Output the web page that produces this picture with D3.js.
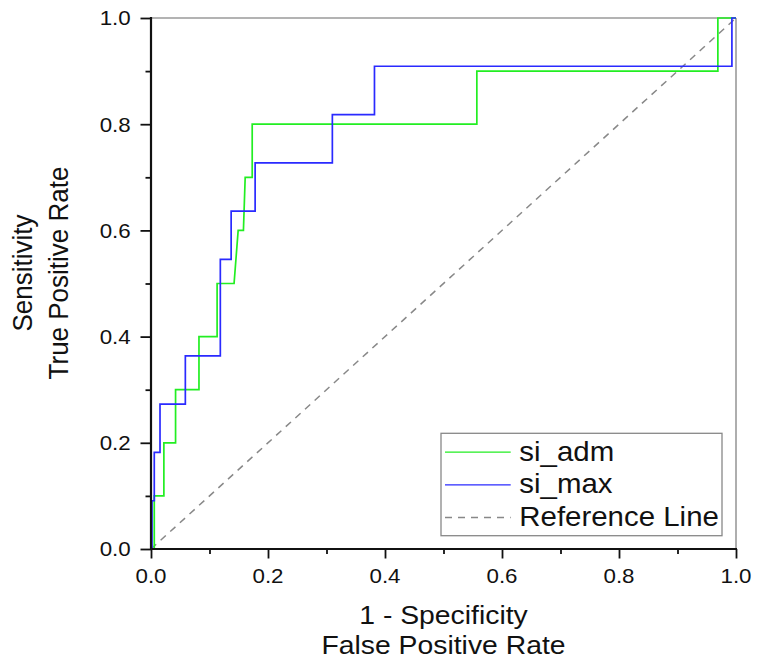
<!DOCTYPE html>
<html>
<head>
<meta charset="utf-8">
<script src="https://cdn.jsdelivr.net/npm/d3@7"></script>
<style>
  html, body { margin: 0; padding: 0; background: #fff; }
  svg { display: block; }
  text { font-family: Arial, "Liberation Sans", sans-serif; fill: #111; }
</style>
</head>
<body>
<svg id="chart" width="759" height="666"></svg>
<script>
// ---- data ----
const admFpr = [0, 0.0056, 0.0056, 0.022, 0.022, 0.042, 0.042, 0.082, 0.082, 0.113, 0.113, 0.142, 0.149, 0.158, 0.161, 0.173, 0.173, 0.557, 0.557, 0.969, 0.969, 1];
const admTpr = [0, 0, 0.1, 0.1, 0.2, 0.2, 0.3, 0.3, 0.4, 0.4, 0.5, 0.5, 0.6, 0.6, 0.7, 0.7, 0.8, 0.8, 0.9, 0.9, 1.0, 1.0];
const maxFpr = [0, 0.0017, 0.0017, 0.0056, 0.0056, 0.0154, 0.0154, 0.0587, 0.0587, 0.1185, 0.1185, 0.137, 0.137, 0.178, 0.178, 0.310, 0.310, 0.382, 0.382, 0.993, 0.993, 1];
const maxTpr = [0, 0, 0.0909, 0.0909, 0.1818, 0.1818, 0.2727, 0.2727, 0.3636, 0.3636, 0.5455, 0.5455, 0.6364, 0.6364, 0.7273, 0.7273, 0.8182, 0.8182, 0.9091, 0.9091, 1.0, 1.0];
const refFpr = [0, 1];
const refTpr = [0, 1];
const majorTicks = [0, 0.2, 0.4, 0.6, 0.8, 1.0];
const minorTicks = [0.1, 0.3, 0.5, 0.7, 0.9];
const tickLabels = ["0.0", "0.2", "0.4", "0.6", "0.8", "1.0"];
const seriesNames = ["si_adm", "si_max", "Reference Line"];
const seriesColors = ["#22ee22", "#2a2aff", "#888888"];
const xTitle = ["1 - Specificity", "False Positive Rate"];
const yTitle = ["Sensitivity", "True Positive Rate"];

// ---- layout ----
const L = 151, R = 736, T = 18, B = 549;
const SX = 1.09; // horizontal text stretch of the reference
const svg = d3.select("#chart");
const x = d3.scaleLinear().domain([0, 1]).range([L, R]);
const y = d3.scaleLinear().domain([0, 1]).range([B, T]);

// frame (top/right gray)
svg.append("line").attr("x1", L).attr("x2", R).attr("y1", T).attr("y2", T)
  .attr("stroke", "#9a9a9a").attr("stroke-width", 1.6);
svg.append("line").attr("x1", R).attr("x2", R).attr("y1", T).attr("y2", B)
  .attr("stroke", "#9a9a9a").attr("stroke-width", 1.6);

// axes
function styleAxis(g) {
  g.select(".domain").remove();
  g.selectAll(".tick line").attr("stroke", "#111").attr("stroke-width", 1.8);
  g.selectAll(".tick text").remove();
}
svg.append("g").attr("transform", `translate(${L},0)`)
  .call(d3.axisLeft(y).tickValues(majorTicks).tickSize(10.5)).call(styleAxis);
svg.append("g").attr("transform", `translate(${L},0)`)
  .call(d3.axisLeft(y).tickValues(minorTicks).tickSize(5.5)).call(styleAxis);
svg.append("g").attr("transform", `translate(0,${B})`)
  .call(d3.axisBottom(x).tickValues(majorTicks).tickSize(9.5)).call(styleAxis);
svg.append("g").attr("transform", `translate(0,${B})`)
  .call(d3.axisBottom(x).tickValues(minorTicks).tickSize(5)).call(styleAxis);

// tick labels
const tickFont = 20.5;
majorTicks.forEach((v, i) => {
  svg.append("text").attr("text-anchor", "end").attr("font-size", tickFont)
    .attr("transform", `translate(130.7,${y(v) + 7.3}) scale(${SX},1)`).text(tickLabels[i]);
  svg.append("text").attr("text-anchor", "middle").attr("font-size", tickFont)
    .attr("transform", `translate(${x(v)},583.3) scale(${SX},1)`).text(tickLabels[i]);
});

// reference line
const lineGen = d3.line().x(d => x(d[0])).y(d => y(d[1]));
svg.append("path").datum(refFpr.map((f, i) => [f, refTpr[i]]))
  .attr("d", lineGen).attr("fill", "none").attr("stroke", seriesColors[2])
  .attr("stroke-width", 1.5).attr("stroke-dasharray", "7,6");

// curves
svg.append("path").datum(admFpr.map((f, i) => [f, admTpr[i]]))
  .attr("d", lineGen).attr("fill", "none").attr("stroke", seriesColors[0]).attr("stroke-width", 1.7);
svg.append("path").datum(maxFpr.map((f, i) => [f, maxTpr[i]]))
  .attr("d", lineGen).attr("fill", "none").attr("stroke", seriesColors[1]).attr("stroke-width", 1.7);

// axis lines (black left & bottom)
svg.append("line").attr("x1", L).attr("x2", L).attr("y1", T - 1).attr("y2", B + 1)
  .attr("stroke", "#111").attr("stroke-width", 2.2);
svg.append("line").attr("x1", L - 1).attr("x2", R + 1).attr("y1", B).attr("y2", B)
  .attr("stroke", "#111").attr("stroke-width", 2.2);

// axis titles
const titleFont = 26;
xTitle.forEach((t, i) => {
  svg.append("text").attr("text-anchor", "middle").attr("font-size", titleFont)
    .attr("transform", `translate(${(L + R) / 2},${624.3 + i * 29.7}) scale(${SX},1)`).text(t);
});
[31.5, 68].forEach((bx, i) => {
  svg.append("text").attr("text-anchor", "middle").attr("font-size", titleFont)
    .attr("transform", `translate(${bx},273) scale(${SX},1) rotate(-90)`).text(yTitle[i]);
});

// legend
const lg = svg.append("g");
lg.append("rect").attr("x", 441).attr("y", 433.3).attr("width", 281).attr("height", 102.4)
  .attr("fill", "#fff").attr("stroke", "#888").attr("stroke-width", 1.3);
seriesNames.forEach((n, i) => {
  const base = 460.7 + i * 32.7;
  lg.append("line").attr("x1", 445).attr("x2", 510.7).attr("y1", base - 8.6).attr("y2", base - 8.6)
    .attr("stroke", seriesColors[i]).attr("stroke-width", i === 2 ? 1.4 : 1.3)
    .attr("stroke-dasharray", i === 2 ? "7,6" : null);
  lg.append("text").attr("font-size", 27)
    .attr("transform", `translate(519.3,${base}) scale(${SX},1)`).text(n);
});
</script>
</body>
</html>
